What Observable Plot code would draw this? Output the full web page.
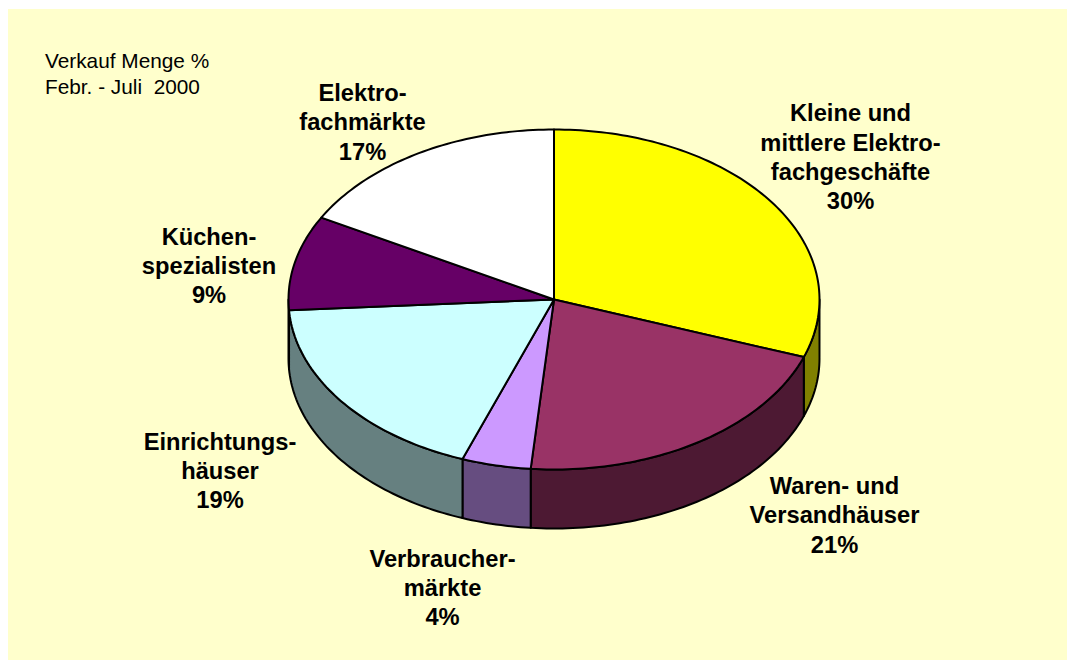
<!DOCTYPE html>
<html lang="de">
<head>
<meta charset="utf-8">
<title>Verkauf Menge %</title>
<style>
  html, body { margin: 0; padding: 0; background: #ffffff; overflow: hidden; }
  #chart { position: absolute; left: 8px; top: 9px; }
  svg { display: block; }
</style>
<script src="https://cdn.jsdelivr.net/npm/d3@7"></script>
<script src="https://cdn.jsdelivr.net/npm/@observablehq/plot@0.6"></script>
</head>
<body>
<div id="chart"></div>
<script>
// Data
const labelNames = [
  "Kleine und\nmittlere Elektro-\nfachgeschäfte",
  "Waren- und\nVersandhäuser",
  "Verbraucher-\nmärkte",
  "Einrichtungs-\nhäuser",
  "Küchen-\nspezialisten",
  "Elektro-\nfachmärkte"
];
const labelPercents = [30, 21, 4, 19, 9, 17];
const sliceShares = [30.5, 20.9, 4.2, 18.4, 9.0, 17.0];
const topColors = ["#FFFF00", "#993366", "#CC99FF", "#CCFFFF", "#660066", "#FFFFFF"];
const sideColors = ["#808000", "#4D1933", "#664D80", "#668080", "#330033", "#808080"];
const noteLines = ["Verkauf Menge %", "Febr. - Juli  2000"];

// Layout of the picture, in page pixels
const pie = {cx: 553.5, cy: 299, rx: 265.5, ry: 170, depth: 59};
const labelCenters = [[850, 155.5], [834, 513.5], [442, 586], [219.5, 469], [208.5, 264], [362, 120.5]];
const noteAnchors = [[44.5, 61], [44.5, 87]];

const TAU = Math.PI * 2;
const px = (a) => pie.cx + pie.rx * Math.sin(a);
const py = (a, drop = 0) => pie.cy - pie.ry * Math.cos(a) + drop;
const range = (a0, a1) => {
  const n = Math.max(2, Math.ceil((a1 - a0) / 0.02));
  return d3.range(n + 1).map((i) => a0 + ((a1 - a0) * i) / n);
};

const total = d3.sum(sliceShares);
let acc = 0;
const slices = sliceShares.map((v, i) => {
  const a0 = (acc / total) * TAU;
  acc += v;
  return {i, a0, a1: (acc / total) * TAU};
});

// Side wall: the lower half of the ellipse only is visible
const sidePoints = slices.flatMap((s) => {
  const a0 = Math.max(s.a0, Math.PI / 2);
  const a1 = Math.min(s.a1, (3 * Math.PI) / 2);
  if (a1 <= a0) return [];
  const arc = range(a0, a1);
  const ring = [
    ...arc.map((a) => ({x: px(a), y: py(a)})),
    ...arc.slice().reverse().map((a) => ({x: px(a), y: py(a, pie.depth)}))
  ];
  ring.push(ring[0]);
  return ring.map((p) => ({...p, id: "side" + s.i, color: sideColors[s.i]}));
});

// Top face wedges
const topPoints = slices.flatMap((s) => {
  const ring = [
    {x: pie.cx, y: pie.cy},
    ...range(s.a0, s.a1).map((a) => ({x: px(a), y: py(a)})),
    {x: pie.cx, y: pie.cy}
  ];
  return ring.map((p) => ({...p, id: "top" + s.i, color: topColors[s.i]}));
});

const labels = labelNames.map((name, i) => ({
  text: name + "\n" + labelPercents[i] + "%",
  x: labelCenters[i][0],
  y: labelCenters[i][1]
}));
const notes = noteLines.map((text, i) => ({text, x: noteAnchors[i][0], y: noteAnchors[i][1]}));

const polygonStyle = {
  x: "x", y: "y", z: "id", fill: "color",
  stroke: "#000000", strokeWidth: 2, strokeLinejoin: "round", curve: "linear"
};

const plot = Plot.plot({
  width: 1059,
  height: 651,
  margin: 0,
  x: {domain: [8, 1067], range: [0, 1059], axis: null},
  y: {domain: [9, 660], range: [0, 651], axis: null},
  color: {type: "identity"},
  style: {background: "#FFFFCC", fontFamily: "'Liberation Sans', Arial, sans-serif", overflow: "hidden"},
  marks: [
    Plot.line(sidePoints, polygonStyle),
    Plot.line(topPoints, polygonStyle),
    Plot.text(labels, {
      x: "x", y: "y", text: "text",
      fontSize: 23.7, fontWeight: "bold", lineHeight: 1.235,
      fill: "#000000", textAnchor: "middle"
    }),
    Plot.text(notes, {
      x: "x", y: "y", text: "text",
      fontSize: 20.8, fill: "#000000", textAnchor: "start"
    })
  ]
});
document.getElementById("chart").appendChild(plot);
</script>
</body>
</html>
